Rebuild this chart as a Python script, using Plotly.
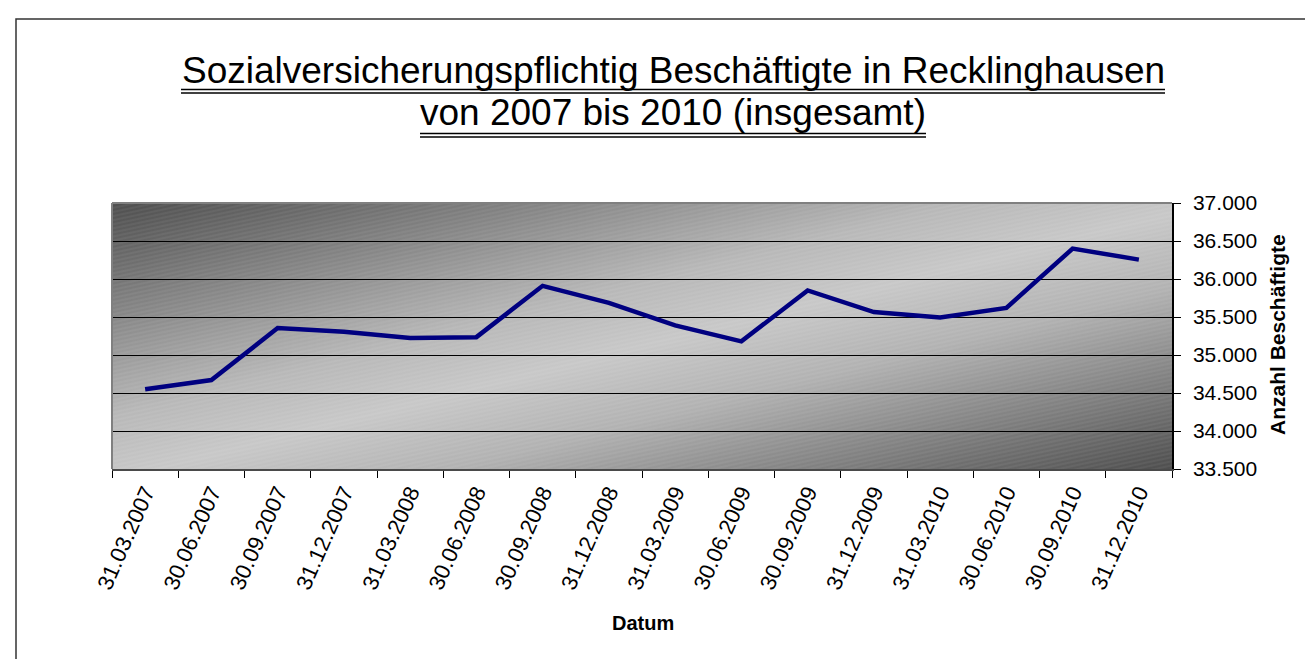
import base64
import plotly.graph_objects as go

# ============================================
# 1. DATA
# ============================================
stichtage = ['31.03.2007', '30.06.2007', '30.09.2007', '31.12.2007',
             '31.03.2008', '30.06.2008', '30.09.2008', '31.12.2008',
             '31.03.2009', '30.06.2009', '30.09.2009', '31.12.2009',
             '31.03.2010', '30.06.2010', '30.09.2010', '31.12.2010']
beschaeftigte = [34550, 34670, 35355, 35305,
                 35225, 35235, 35910, 35685,
                 35390, 35180, 35850, 35565,
                 35495, 35620, 36400, 36255]
y_ticks = [33500, 34000, 34500, 35000, 35500, 36000, 36500, 37000]

titel_1 = 'Sozialversicherungspflichtig Beschäftigte in Recklinghausen'
titel_2 = 'von 2007 bis 2010 (insgesamt)'

# ============================================
# 2. PAGE GEOMETRY (pixels)
# ============================================
W, H = 1313, 659
L, R, T, B = 104, 1164, 195, 461   # plot area edges


def px(x):
    return (x - L) / (R - L)


def py(y):
    return (B - y) / (B - T)


# diagonal grey gradient + faint hatch for the plot area (Excel style fill)
svg = (
    '<svg xmlns="http://www.w3.org/2000/svg" width="1060" height="266">'
    '<defs>'
    '<linearGradient id="g" x1="0" y1="0" x2="1" y2="1">'
    '<stop offset="0" stop-color="#4e4e4e"/>'
    '<stop offset="0.40" stop-color="#b8b8b8"/>'
    '<stop offset="0.52" stop-color="#c8c8c8"/>'
    '<stop offset="0.66" stop-color="#b2b2b2"/>'
    '<stop offset="1" stop-color="#4e4e4e"/>'
    '</linearGradient>'
    '<pattern id="h" width="8" height="4" patternUnits="userSpaceOnUse" '
    'patternTransform="rotate(-12)">'
    '<line x1="0" y1="1" x2="8" y2="1" stroke="white" stroke-opacity="0.10" '
    'stroke-width="1"/></pattern>'
    '</defs>'
    '<rect width="100%" height="100%" fill="url(#g)"/>'
    '<rect width="100%" height="100%" fill="url(#h)"/></svg>'
)
bg_src = 'data:image/svg+xml;base64,' + base64.b64encode(svg.encode()).decode()

# ============================================
# 3. FIGURE
# ============================================
fig = go.Figure()

fig.add_trace(go.Scatter(
    x=stichtage,
    y=beschaeftigte,
    mode='lines',
    line=dict(color='#000080', width=4.5),
    hovertemplate='%{x}<br>%{y:,}<extra></extra>'
))

fig.update_layout(
    width=W, height=H,
    margin=dict(l=L, r=W - R, t=T, b=H - B, pad=0),
    paper_bgcolor='white',
    plot_bgcolor='rgba(0,0,0,0)',
    separators=',.',
    showlegend=False,
    font=dict(family='Liberation Sans, Arial, sans-serif', color='black'),
    images=[dict(source=bg_src, xref='paper', yref='paper', x=0, y=1,
                 sizex=1, sizey=1, sizing='stretch', layer='below',
                 xanchor='left', yanchor='top')]
)

fig.update_xaxes(
    type='category',
    tickson='boundaries',
    ticks='outside', ticklen=7, tickcolor='black', tickwidth=1,
    showgrid=False,
    showline=True, linecolor='#4a4a4a', linewidth=2,
    tickangle=-66,
    tickfont=dict(size=22),
    range=[-0.5, len(stichtage) - 0.5]
)

fig.update_yaxes(
    side='right',
    range=[y_ticks[0], y_ticks[-1]],
    tickvals=y_ticks,
    tickformat=',d',
    ticks='outside', ticklen=7, tickcolor='black',
    ticklabelstandoff=8,
    showline=True, linecolor='black', linewidth=1.5,
    showgrid=True, gridcolor='black', gridwidth=1,
    zeroline=False,
    tickfont=dict(size=21)
)

# plot area frame (top + left) and outer chart border
fig.add_shape(type='line', xref='paper', yref='paper', x0=0, x1=1, y0=1, y1=1,
              line=dict(color='#808080', width=2), layer='above')
fig.add_shape(type='line', xref='paper', yref='paper', x0=0, x1=0, y0=0, y1=1,
              line=dict(color='#808080', width=2), layer='above')
fig.add_shape(type='rect', xref='paper', yref='paper',
              x0=px(8), x1=px(W + 20), y0=py(H + 20), y1=py(11),
              line=dict(color='#333333', width=1.5))

# ============================================
# 4. TITLES
# ============================================
fig.add_annotation(
    text=titel_1, xref='paper', yref='paper', x=px(665), y=py(62),
    xanchor='center', yanchor='middle', showarrow=False,
    font=dict(size=37)
)
fig.add_annotation(
    text=titel_2, xref='paper', yref='paper', x=px(665), y=py(104),
    xanchor='center', yanchor='middle', showarrow=False,
    font=dict(size=37)
)

# double underline below each title line
for x0, x1, y0 in [(173, 1157, 81.5), (412, 918, 125.5)]:
    for dy in (0, 3.5):
        fig.add_shape(type='line', xref='paper', yref='paper',
                      x0=px(x0), x1=px(x1), y0=py(y0 + dy), y1=py(y0 + dy),
                      line=dict(color='black', width=1.5))

fig.add_annotation(
    text='<b>Datum</b>', xref='paper', yref='paper',
    x=px(635), y=py(615), xanchor='center', yanchor='middle',
    showarrow=False, font=dict(size=20)
)
fig.add_annotation(
    text='<b>Anzahl Beschäftigte</b>', xref='paper', yref='paper',
    x=px(1269), y=py(327), xanchor='center', yanchor='middle',
    textangle=-90, showarrow=False, font=dict(size=21)
)

fig.write_html('out.html')
print('saved out.html')
